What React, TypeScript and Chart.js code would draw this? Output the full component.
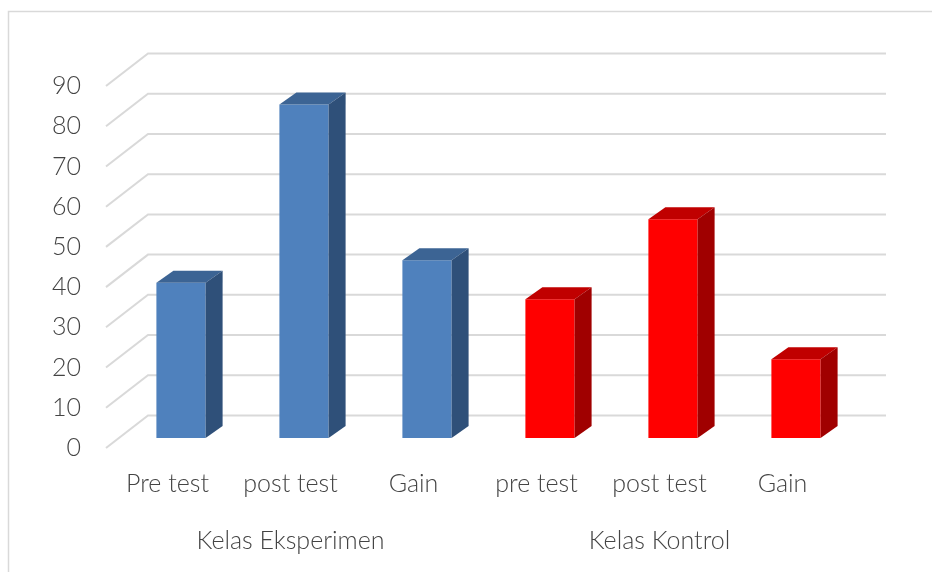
import React, { useEffect, useRef } from 'react';
import { Chart, registerables } from 'chart.js';

Chart.register(...registerables);

const categories = ['Pre test', 'post test', 'Gain', 'pre test', 'post test', 'Gain'];
const groupLabels = ['Kelas Eksperimen', 'Kelas Kontrol'];
const groupSizes = [3, 3];
const values = [38.6, 82.9, 44.2, 34.5, 54.4, 19.6];
const frontColors = ['#4F81BD', '#4F81BD', '#4F81BD', '#FF0000', '#FF0000', '#FF0000'];
const topColors = ['#3C6494', '#3C6494', '#3C6494', '#C00000', '#C00000', '#C00000'];
const sideColors = ['#2F5079', '#2F5079', '#2F5079', '#A00000', '#A00000', '#A00000'];
const yMin = 0;
const yMax = 90;
const yStep = 10;

const WALL = { dx: 42, dy: -32.5 };
const BAR_SHIFT = { dx: 13.5, dy: -10 };
const BAR_DEPTH = { dx: 17, dy: -12 };
const FONT = 'Lato';
const FONT_WEIGHT = '300';
const FONT_SIZE = 25;
const TEXT_COLOR = '#444444';
const GRID_COLOR = '#D9D9D9';

const depthPlugin = {
  id: 'depth3d',
  beforeDraw(chart: any) {
    const { ctx, width, height } = chart;
    ctx.save();
    ctx.fillStyle = '#ffffff';
    ctx.fillRect(0, 0, width, height);
    ctx.strokeStyle = '#D9D9D9';
    ctx.lineWidth = 1.5;
    ctx.strokeRect(8.5, 11.5, width + 20, height + 20);
    ctx.restore();
  },
  beforeDatasetsDraw(chart: any) {
    const { ctx, chartArea } = chart;
    const ys = chart.scales.y;
    ctx.save();
    ctx.strokeStyle = GRID_COLOR;
    ctx.lineWidth = 2;
    ys.ticks.forEach((t: any) => {
      const py = ys.getPixelForValue(t.value);
      ctx.beginPath();
      ctx.moveTo(chartArea.left, py);
      ctx.lineTo(chartArea.left + WALL.dx, py + WALL.dy);
      ctx.lineTo(chartArea.right + WALL.dx, py + WALL.dy);
      ctx.stroke();
    });
    ctx.restore();
    ctx.save();
    ctx.translate(BAR_SHIFT.dx, BAR_SHIFT.dy);
  },
  afterDatasetsDraw(chart: any) {
    const { ctx } = chart;
    const meta = chart.getDatasetMeta(0);
    meta.data.forEach((bar: any, i: number) => {
      const { x, y, base, width } = bar.getProps(['x', 'y', 'base', 'width'], true);
      const l = x - width / 2;
      const r = x + width / 2;
      ctx.fillStyle = topColors[i];
      ctx.beginPath();
      ctx.moveTo(l, y);
      ctx.lineTo(r, y);
      ctx.lineTo(r + BAR_DEPTH.dx, y + BAR_DEPTH.dy);
      ctx.lineTo(l + BAR_DEPTH.dx, y + BAR_DEPTH.dy);
      ctx.closePath();
      ctx.fill();
      ctx.fillStyle = sideColors[i];
      ctx.beginPath();
      ctx.moveTo(r, y);
      ctx.lineTo(r + BAR_DEPTH.dx, y + BAR_DEPTH.dy);
      ctx.lineTo(r + BAR_DEPTH.dx, base + BAR_DEPTH.dy);
      ctx.lineTo(r, base);
      ctx.closePath();
      ctx.fill();
    });
    ctx.restore();

    // group labels
    const xs = chart.scales.x;
    ctx.save();
    ctx.font = `${FONT_WEIGHT} ${FONT_SIZE}px ${FONT}`;
    ctx.fillStyle = TEXT_COLOR;
    ctx.textAlign = 'center';
    ctx.textBaseline = 'middle';
    let start = 0;
    groupLabels.forEach((g, gi) => {
      const end = start + groupSizes[gi] - 1;
      const cx = (xs.getPixelForValue(start) + xs.getPixelForValue(end)) / 2;
      ctx.fillText(g, cx, 541);
      start = end + 1;
    });
    ctx.restore();
  },
};

export default function App() {
  const ref = useRef<HTMLCanvasElement | null>(null);
  useEffect(() => {
    if (!ref.current) return;
    const chart = new Chart(ref.current, {
      type: 'bar',
      data: {
        labels: categories,
        datasets: [
          {
            data: values,
            backgroundColor: frontColors,
            borderWidth: 0,
            barPercentage: 0.4,
            categoryPercentage: 1.0,
            clip: false as any,
          },
        ],
      },
      options: {
        animation: false,
        responsive: true,
        maintainAspectRatio: false,
        layout: { padding: { left: 0, right: 88, top: 86, bottom: 0 } },
        plugins: { legend: { display: false }, tooltip: { enabled: false } },
        scales: {
          x: {
            grid: { display: false, drawTicks: false },
            border: { display: false },
            ticks: {
              color: TEXT_COLOR,
              font: { family: FONT, size: FONT_SIZE, weight: FONT_WEIGHT as any },
              padding: 21,
              maxRotation: 0,
              autoSkip: false,
            },
            afterFit: (s: any) => {
              s.height = 124;
            },
          },
          y: {
            min: yMin,
            max: yMax,
            grid: { display: false, drawTicks: false },
            border: { display: false },
            ticks: {
              stepSize: yStep,
              color: TEXT_COLOR,
              font: { family: FONT, size: FONT_SIZE, weight: FONT_WEIGHT as any },
              padding: 25,
            },
            afterFit: (s: any) => {
              s.width = 106;
            },
          },
        },
      },
      plugins: [depthPlugin],
    });
    return () => chart.destroy();
  }, []);
  return (
    <div style={{ position: 'fixed', left: 0, top: 0, width: 932, height: 572, background: '#fff' }}>
      <canvas ref={ref} />
    </div>
  );
}
